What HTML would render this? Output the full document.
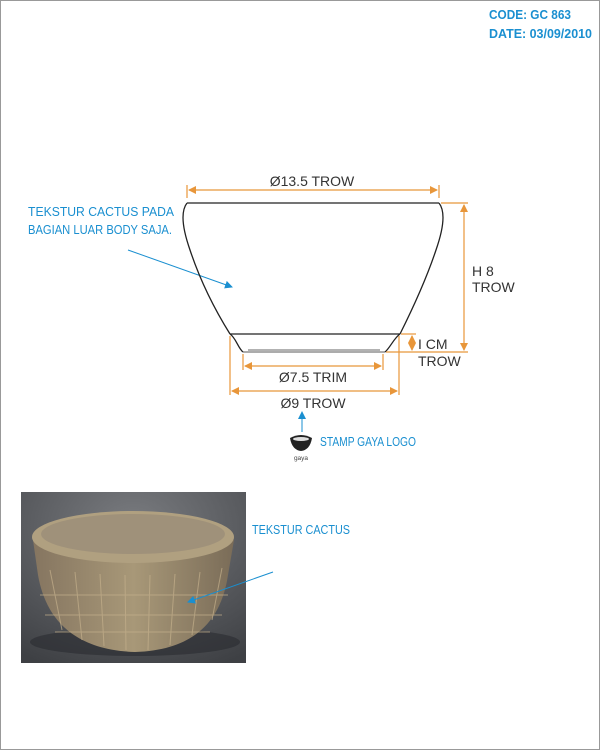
<!DOCTYPE html>
<html><head><meta charset="utf-8"><style>
html,body{margin:0;padding:0;background:#fff;}
svg{display:block;}
text{font-family:"Liberation Sans",sans-serif;}
</style></head><body>
<svg width="600" height="750" viewBox="0 0 600 750">
<defs>
<radialGradient id="bg" cx="0.5" cy="0.2" r="0.9"><stop offset="0" stop-color="#7a7c80"/><stop offset="1" stop-color="#3e4044"/></radialGradient>
<linearGradient id="body" x1="0" x2="1"><stop offset="0" stop-color="#857560"/><stop offset="0.5" stop-color="#a89878"/><stop offset="1" stop-color="#7a6c58"/></linearGradient>
<marker id="ao" markerWidth="8" markerHeight="8" refX="7" refY="4" orient="auto-start-reverse" markerUnits="userSpaceOnUse"><path d="M0,0 L8,4 L0,8 z" fill="#e8963a"/></marker>
<marker id="ab" markerWidth="8" markerHeight="8" refX="7" refY="4" orient="auto" markerUnits="userSpaceOnUse"><path d="M0,0 L8,4 L0,8 z" fill="#1a8fd0"/></marker>
</defs>
<rect x="0.5" y="0.5" width="599" height="749" fill="#fff" stroke="#999"/>
<g fill="#1a8fd0" font-weight="bold" font-size="13">
<text x="489" y="19" textLength="82" lengthAdjust="spacingAndGlyphs">CODE: GC 863</text>
<text x="489" y="38" textLength="103" lengthAdjust="spacingAndGlyphs">DATE: 03/09/2010</text>
</g>
<g fill="#1a8fd0" font-size="12.5">
<text x="28" y="216" textLength="146" lengthAdjust="spacingAndGlyphs">TEKSTUR CACTUS PADA</text>
<text x="28" y="234" textLength="144" lengthAdjust="spacingAndGlyphs">BAGIAN LUAR BODY SAJA.</text>
</g>
<line x1="128" y1="250" x2="232" y2="287" stroke="#1a8fd0" stroke-width="1" marker-end="url(#ab)"/>
<g fill="none" stroke="#222" stroke-width="1.3">
<line x1="187" y1="203" x2="439" y2="203"/>
<path d="M187,203 C180,212 183,230 190,250 C200,280 215,310 230,334"/>
<path d="M439,203 C446,212 443,230 436,250 C426,280 412,310 400,334"/>
<line x1="230" y1="334" x2="400" y2="334"/>
<path d="M230,334 C236,338 238,348 243,352"/>
<path d="M400,334 C394,338 390,348 385,352"/>
<line x1="243" y1="352" x2="385" y2="352" stroke-width="0.8"/>
<line x1="248" y1="350" x2="380" y2="350" stroke="#999" stroke-width="1.5"/>
</g>
<g stroke="#e8963a" stroke-width="1.2" fill="none">
<line x1="187" y1="185" x2="187" y2="198"/><line x1="439" y1="185" x2="439" y2="198"/>
<line x1="189" y1="190" x2="437" y2="190" marker-start="url(#ao)" marker-end="url(#ao)"/>
<line x1="441" y1="203" x2="468" y2="203"/><line x1="386" y1="352" x2="468" y2="352"/>
<line x1="464" y1="205" x2="464" y2="350" marker-start="url(#ao)" marker-end="url(#ao)"/>
<line x1="401" y1="334" x2="416" y2="334"/>
<line x1="412" y1="336" x2="412" y2="350" marker-start="url(#ao)" marker-end="url(#ao)"/>
<line x1="243" y1="354" x2="243" y2="370"/><line x1="383" y1="354" x2="383" y2="370"/>
<line x1="245" y1="366" x2="381" y2="366" marker-start="url(#ao)" marker-end="url(#ao)"/>
<line x1="230" y1="336" x2="230" y2="395"/><line x1="399" y1="336" x2="399" y2="395"/>
<line x1="232" y1="391" x2="397" y2="391" marker-start="url(#ao)" marker-end="url(#ao)"/>
</g>
<g fill="#333" font-size="14">
<text x="312" y="186" text-anchor="middle">Ø13.5 TROW</text>
<text x="472" y="276">H 8</text>
<text x="472" y="292">TROW</text>
<text x="418" y="349">I CM</text>
<text x="418" y="366">TROW</text>
<text x="313" y="382" text-anchor="middle">Ø7.5 TRIM</text>
<text x="313" y="408" text-anchor="middle">Ø9 TROW</text>
</g>
<line x1="302" y1="432" x2="302" y2="412" stroke="#1a8fd0" stroke-width="1" marker-end="url(#ab)"/>
<g>
<path d="M290,438 Q301,432 312,438 Q310,450 301,451 Q292,450 290,438 z" fill="#222"/>
<ellipse cx="301" cy="439" rx="8" ry="2" fill="#ddd"/>
<text x="301" y="460" font-size="6.5" fill="#444" text-anchor="middle">gaya</text>
</g>
<text x="320" y="446" fill="#1a8fd0" font-size="12.5" textLength="96" lengthAdjust="spacingAndGlyphs">STAMP GAYA LOGO</text>
<g>
<rect x="21" y="492" width="225" height="171" fill="url(#bg)"/>
<ellipse cx="135" cy="642" rx="105" ry="14" fill="#2a2c30" opacity="0.6"/>
<path d="M33,540 L38,575 C45,615 70,650 135,652 C200,650 222,615 228,575 L234,540 z" fill="url(#body)"/>
<ellipse cx="133" cy="537" rx="101" ry="26" fill="#b0a080"/>
<ellipse cx="133" cy="534" rx="92" ry="20" fill="#9f917a"/>
<g stroke="#c4b08c" stroke-width="1" opacity="0.7">
<line x1="50" y1="570" x2="62" y2="630"/><line x1="75" y1="572" x2="82" y2="640"/><line x1="100" y1="574" x2="104" y2="646"/>
<line x1="125" y1="575" x2="126" y2="650"/><line x1="150" y1="575" x2="148" y2="650"/><line x1="175" y1="574" x2="170" y2="645"/>
<line x1="200" y1="572" x2="192" y2="635"/><line x1="222" y1="568" x2="212" y2="620"/>
<line x1="40" y1="595" x2="228" y2="595"/><line x1="45" y1="615" x2="222" y2="615"/><line x1="55" y1="632" x2="210" y2="632"/>
</g>
</g>
<text x="252" y="534" fill="#1a8fd0" font-size="12.5" textLength="98" lengthAdjust="spacingAndGlyphs">TEKSTUR CACTUS</text>
<line x1="273" y1="572" x2="188" y2="602" stroke="#1a8fd0" stroke-width="1" marker-end="url(#ab)"/>
</svg>
</body></html>
